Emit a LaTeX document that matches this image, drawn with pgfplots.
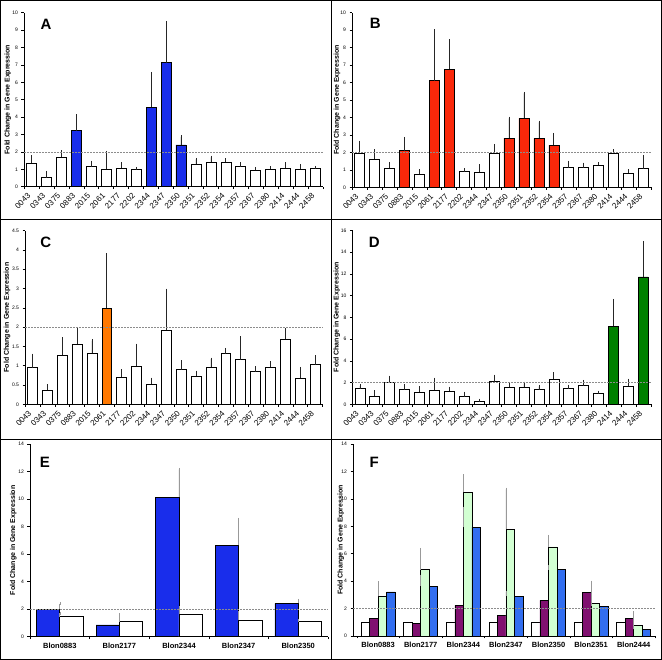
\documentclass[border=0pt]{standalone}
\usepackage{fontspec}
\setmainfont{Liberation Sans}
\usepackage{pgfplots}
\pgfplotsset{compat=1.18}

\definecolor{blueA}{RGB}{25,45,235}
\definecolor{redB}{RGB}{250,40,10}
\definecolor{orangeC}{RGB}{255,120,0}
\definecolor{greenD}{RGB}{0,128,0}
\definecolor{purpleF}{RGB}{128,16,112}
\definecolor{mintF}{RGB}{210,255,210}
\definecolor{blueF}{RGB}{50,110,240}

\pgfplotsset{
  panel/.style={
    scale only axis, anchor=south west, clip=false,
    axis x line*=bottom, axis y line*=left,
    axis line style={black, line width=0.6pt},
    ymin=0, tick align=outside,
    major tick length=2.5pt, minor tick length=2.5pt,
    tick style={black, line width=0.5pt},
    major x tick style={draw=none},
    /pgf/number format/assume math mode=true,
    yticklabel style={font=\fontsize{5}{6}\selectfont},
    ylabel={Fold Change in Gene Expression},
    ylabel style={font=\bfseries\fontsize{7}{8}\selectfont, anchor=center},
  },
  genes/.style={panel, xmin=-0.5, xmax=19.5, xtick={0,...,19},
    xticklabels={0043,0343,0375,0883,2015,2061,2177,2202,2344,2347,2350,2351,2352,2354,2357,2367,2380,2414,2444,2458},
    minor xtick={-0.5,0.5,...,19.5}, xticklabel shift=3pt,
    xticklabel style={rotate=45, anchor=east, font=\fontsize{8}{9}\selectfont}},
  blon/.style={panel, xtick={0,...,6},
    xticklabel style={font=\bfseries\fontsize{7.5}{8}\selectfont}},
  bar/.style 2 args={ybar, bar width=#1, bar shift=#2, draw=black, line width=0.6pt,
    error bars/y dir=plus, error bars/y explicit,
    error bars/error bar style={black!85, line width=0.7pt},
    error bars/error mark options={black!85, mark size=1.6pt, line width=0.7pt}},
  ebgray/.style={error bars/error bar style={gray!80, line width=0.6pt},
    error bars/error mark options={gray!80, mark size=1.6pt, line width=0.6pt}},
  cutoff/.style={gray!90, line width=0.5pt, dash pattern=on 2pt off 1pt},
}

\begin{document}
\begin{tikzpicture}[x=1pt,y=1pt]
\useasboundingbox (0,0) rectangle (662,660);
\draw[line width=1pt] (0.5,0.5) rectangle (661.5,659.5);
\draw[line width=1pt] (331,0) -- (331,660);
\draw[line width=1pt] (0,440) -- (662,440);
\draw[line width=1pt] (0,220) -- (662,220);

% A
\begin{axis}[genes, at={(24pt,473.3pt)}, width=299pt, height=174pt,
  ymax=10, ytick={0,1,...,10},
  ylabel style={at={(axis description cs:-0.054,0.5)}}]
\addplot[bar={0.67}{0pt}, fill=white] coordinates {
 (0,1.35) +- (0,0.37) (1,0.52) +- (0,0.30) (2,1.69) +- (0,0.31)
 (4,1.15) +- (0,0.25) (5,1.00) +- (0,0.97) (6,1.05) +- (0,0.25) (7,1.00) +- (0,0.05)
 (11,1.28) +- (0,0.29) (12,1.40) +- (0,0.29) (13,1.40) +- (0,0.13) (14,1.15) +- (0,0.15)
 (15,0.94) +- (0,0.11) (16,1.00) +- (0,0.09) (17,1.05) +- (0,0.25) (18,1.00) +- (0,0.20)
 (19,1.05) +- (0,0.05)};
\addplot[bar={0.67}{0pt}, fill=blueA] coordinates {
 (3,3.22) +- (0,0.84) (8,4.56) +- (0,1.95) (9,7.13) +- (0,2.31) (10,2.40) +- (0,0.47)};
\addplot[cutoff] coordinates {(-0.5,2) (19.5,2)};
\end{axis}
\node[font=\bfseries\fontsize{15}{15}\selectfont] at (46,636) {A};

% B
\begin{axis}[genes, at={(352pt,472.7pt)}, width=299pt, height=174.6pt,
  ymax=10, ytick={0,1,...,10},
  ylabel style={at={(axis description cs:-0.05,0.5)}}]
\addplot[bar={0.67}{0pt}, fill=white] coordinates {
 (0,1.95) +- (0,0.63) (1,1.60) +- (0,0.50) (2,1.10) +- (0,0.27)
 (4,0.74) +- (0,0.21) (7,0.92) +- (0,0.07) (8,0.86) +- (0,0.38) (9,1.95) +- (0,0.44)
 (14,1.13) +- (0,0.30) (15,1.13) +- (0,0.19) (16,1.26) +- (0,0.08) (17,1.95) +- (0,0.15)
 (18,0.82) +- (0,0.13) (19,1.07) +- (0,0.69)};
\addplot[bar={0.67}{0pt}, fill=redB] coordinates {
 (3,2.10) +- (0,0.70) (5,6.10) +- (0,2.87) (6,6.75) +- (0,1.65)
 (10,2.82) +- (0,1.13) (11,3.95) +- (0,1.43) (12,2.80) +- (0,0.92) (13,2.42) +- (0,0.61)};
\addplot[cutoff] coordinates {(-0.5,2) (19.5,2)};
\end{axis}
\node[font=\bfseries\fontsize{15}{15}\selectfont] at (375.3,636.7) {B};

% C
\begin{axis}[genes, at={(25pt,255.7pt)}, width=297.5pt, height=173.6pt,
  ymax=4.5, ytick={0,0.5,...,4.5},
  ylabel style={at={(axis description cs:-0.06,0.5)}}]
\addplot[bar={0.67}{0pt}, fill=white] coordinates {
 (0,0.95) +- (0,0.32) (1,0.36) +- (0,0.12) (2,1.27) +- (0,0.43) (3,1.55) +- (0,0.39)
 (4,1.32) +- (0,0.33) (6,0.71) +- (0,0.16) (7,0.98) +- (0,0.55) (8,0.52) +- (0,0.13)
 (9,1.92) +- (0,1.04) (10,0.90) +- (0,0.20) (11,0.73) +- (0,0.10) (12,0.97) +- (0,0.20)
 (13,1.31) +- (0,0.11) (14,1.16) +- (0,0.56) (15,0.85) +- (0,0.10) (16,0.96) +- (0,0.11)
 (17,1.69) +- (0,0.24) (18,0.67) +- (0,0.26) (19,1.03) +- (0,0.20)};
\addplot[bar={0.67}{0pt}, fill=orangeC] coordinates {(5,2.50) +- (0,1.37)};
\addplot[cutoff] coordinates {(-0.5,2) (19.5,2)};
\end{axis}
\node[font=\bfseries\fontsize{15}{15}\selectfont] at (45.7,417.3) {C};

% D
\begin{axis}[genes, at={(352.4pt,255.7pt)}, width=298.4pt, height=174pt,
  ymax=16, ytick={0,2,...,16},
  ylabel style={at={(axis description cs:-0.052,0.5)}}]
\addplot[bar={0.67}{0pt}, fill=white] coordinates {
 (0,1.44) +- (0,0.25) (1,0.77) +- (0,0.36) (2,2.02) +- (0,0.46) (3,1.35) +- (0,0.34)
 (4,1.13) +- (0,0.40) (5,1.29) +- (0,1.01) (6,1.23) +- (0,0.24) (7,0.71) +- (0,0.30)
 (8,0.31) +- (0,0.06) (9,2.09) +- (0,0.49) (10,1.56) +- (0,0.28) (11,1.56) +- (0,0.37)
 (12,1.35) +- (0,0.28) (13,2.30) +- (0,0.52) (14,1.44) +- (0,0.22) (15,1.72) +- (0,0.37)
 (16,1.04) +- (0,0.06) (18,1.66) +- (0,0.55)};
\addplot[bar={0.67}{0pt}, fill=greenD] coordinates {(17,7.18) +- (0,2.36) (19,11.72) +- (0,3.16)};
\addplot[cutoff] coordinates {(-0.5,2) (19.5,2)};
\end{axis}
\node[font=\bfseries\fontsize{15}{15}\selectfont] at (374.3,417.3) {D};

% E
\begin{axis}[blon, at={(30pt,23.3pt)}, width=298pt, height=192.7pt,
  xmin=-0.5, xmax=4.5, minor xtick={-0.5,0.5,...,4.5},
  xticklabels={Blon0883,Blon2177,Blon2344,Blon2347,Blon2350},
  ymax=14, ytick={0,2,...,14},
  ylabel style={at={(axis description cs:-0.056,0.5)}}]
\addplot[bar={0.39}{-0.195}, ebgray, fill=blueA] coordinates {
 (0,2.00) +- (0,0.40) (1,0.85) +- (0,0.75) (2,10.12) +- (0,2.03) (3,6.63) +- (0,1.89) (4,2.42) +- (0,0.22)};
\addplot[bar={0.39}{0.195}, ebgray, fill=white] coordinates {
 (0,1.45) +- (0,0.25) (1,1.14) +- (0,0.07) (2,1.65) +- (0,0.45) (3,1.19) +- (0,0.55) (4,1.09) +- (0,0.10)};
\addplot[cutoff] coordinates {(-0.5,2) (4.5,2)};
\end{axis}
\node[font=\bfseries\fontsize{15}{15}\selectfont] at (45,197.3) {E};

% F
\begin{axis}[blon, at={(353pt,24pt)}, width=302pt, height=192pt,
  xmin=-0.59, xmax=6.5, minor xtick={-0.5,0.5,...,6.5},
  xticklabels={Blon0883,Blon2177,Blon2344,Blon2347,Blon2350,Blon2351,Blon2444},
  ymax=14, ytick={0,2,...,14},
  ylabel style={at={(axis description cs:-0.04,0.5)}}]
\addplot[bar={0.2}{-0.3}, ebgray, fill=white] coordinates {
 (0,1.00) +- (0,0.28) (1,1.00) +- (0,0.33) (2,1.00) +- (0,0.20) (3,1.00) +- (0,0.19)
 (4,1.00) +- (0,0.07) (5,1.00) +- (0,0.40) (6,1.00) +- (0,0.43)};
\addplot[bar={0.2}{-0.1}, ebgray, fill=purpleF] coordinates {
 (0,1.28) +- (0,0.29) (1,0.90) +- (0,0.24) (2,2.23) +- (0,0.24) (3,1.53) +- (0,0.31)
 (4,2.59) +- (0,0.22) (5,3.15) +- (0,0.77) (6,1.26) +- (0,0.44)};
\addplot[bar={0.2}{0.1}, ebgray, fill=mintF] coordinates {
 (0,2.90) +- (0,0.97) (1,4.84) +- (0,1.46) (2,10.48) +- (0,1.19) (3,7.80) +- (0,2.90)
 (4,6.49) +- (0,0.77) (5,2.37) +- (0,0.66) (6,0.77) +- (0,0.32)};
\addplot[bar={0.2}{0.3}, ebgray, fill=blueF] coordinates {
 (0,3.22) +- (0,0.48) (1,3.63) +- (0,0.73) (2,7.94) +- (0,1.38) (3,2.90) +- (0,0.30)
 (4,4.84) +- (0,0.20) (5,2.18) +- (0,0.56) (6,0.48) +- (0,0.17)};
\addplot[cutoff] coordinates {(-0.59,2) (6.5,2)};
\end{axis}
\node[font=\bfseries\fontsize{15}{15}\selectfont] at (374.3,197.3) {F};
\end{tikzpicture}
\end{document}
